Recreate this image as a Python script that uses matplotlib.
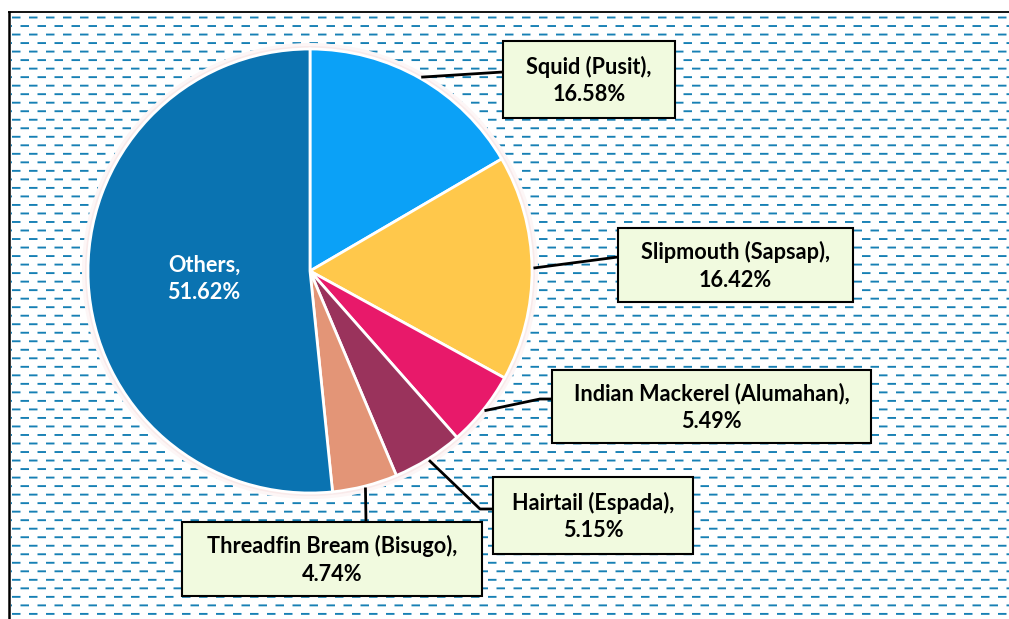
import numpy as np
import matplotlib
matplotlib.use("Agg")
import matplotlib.pyplot as plt
from matplotlib.patches import Rectangle, Circle

# ---- data ----
labels = ["Squid (Pusit)", "Slipmouth (Sapsap)", "Indian Mackerel (Alumahan)",
          "Hairtail (Espada)", "Threadfin Bream (Bisugo)", "Others"]
shares = [16.58, 16.42, 5.49, 5.15, 4.74, 51.62]
colors = ["#0BA1F7", "#FFC84B", "#E8196A", "#9A335C", "#E39577", "#0A73B1"]

W, H = 1009, 619
fig = plt.figure(figsize=(W / 100, H / 100), dpi=100)
ax = fig.add_axes([0, 0, 1, 1])

# ---- dashed background pattern (pixel image) ----
img = np.ones((H, W, 3))
dash_rgb = np.array([23, 128, 180]) / 255.0
cov = np.zeros((H, W))
pitch_y, pitch_x, dash_len, half_th = 8.52, 17.0, 8.5, 0.95
k = 0
while True:
    yc = 17.5 + k * pitch_y
    if yc > H + 2:
        break
    x0 = 12.0 if k % 2 == 0 else 3.5
    ycov = np.clip(np.minimum(np.arange(H) + 1, yc + half_th) - np.maximum(np.arange(H), yc - half_th), 0, 1)
    xcov = np.zeros(W)
    s = x0
    while s < W:
        xcov += np.clip(np.minimum(np.arange(W) + 1, s + dash_len) - np.maximum(np.arange(W), s), 0, 1)
        s += pitch_x
    xcov[:11] = 0
    cov = np.maximum(cov, np.outer(ycov, xcov))
    k += 1
img = img * (1 - cov[..., None]) + dash_rgb[None, None, :] * cov[..., None]
ax.imshow(img, extent=[0, W, 0, H], origin="upper", interpolation="nearest", zorder=0)

# ---- border ----
ax.plot([8, W], [H - 11.8, H - 11.8], color="black", lw=1.3, solid_capstyle="butt", zorder=1)
ax.plot([8.7, 8.7], [0, H - 11], color="black", lw=1.8, solid_capstyle="butt", zorder=1)

# ---- pie ----
cx, cy, R = 310, H - 271, 222
ax.add_patch(Circle((cx, cy), R + 6, color="#fdf6f6", zorder=2, lw=0))
ax.add_patch(Circle((cx, cy), R + 3, color="#f9eaea", zorder=2, lw=0))
wedges, _ = ax.pie(shares, colors=colors, startangle=90, counterclock=False,
                   center=(cx, cy), radius=R, frame=True,
                   wedgeprops=dict(edgecolor="white", linewidth=2.0, zorder=3))
for w in wedges:
    w.set_zorder(3)

# ---- labels ----
font = dict(family=["Lato", "DejaVu Sans"], fontweight="bold", fontsize=15.6)
box_fc = "#F1FADF"
boxes = {  # left, top, right, bottom (pixels)
    0: (503, 41, 675, 118),
    1: (618, 228, 853, 302),
    2: (552, 370, 871, 443),
    3: (493, 477, 693, 554),
    4: (182, 522, 482, 596),
}
elbows = {
    0: [(503, 72)],
    1: [(618, 257)],
    2: [(540, 399), (552, 399)],
    3: [(480, 509), (493, 509)],
    4: [(366, 522)],
}
cum = np.cumsum([0] + shares)
for i in range(5):
    mid = np.deg2rad(90 - (cum[i] + shares[i] / 2) * 3.6)
    sx, sy = cx + (R + 1.5) * np.cos(mid), cy + (R + 1.5) * np.sin(mid)
    px = [sx] + [p[0] for p in elbows[i]]
    py = [sy] + [H - p[1] for p in elbows[i]]
    ax.plot(px, py, color="black", lw=2.0, zorder=4, solid_capstyle="butt")
    l, t, r, b = boxes[i]
    ax.add_patch(Rectangle((l, H - b), r - l, b - t, facecolor=box_fc,
                           edgecolor="black", lw=1.5, zorder=5))
    ax.text((l + r) / 2, H - (t + b) / 2 - 1, f"{labels[i]},\n{shares[i]:.2f}%",
            ha="center", va="center", linespacing=1.38, zorder=6, color="black", **font)

ax.text(204, H - 279, f"{labels[5]},\n{shares[5]:.2f}%", ha="center", va="center",
        linespacing=1.38, zorder=6, color="white", **font)

ax.set_xlim(0, W)
ax.set_ylim(0, H)
ax.set_aspect("auto")
ax.axis("off")
fig.savefig("out.png", dpi=100, facecolor="white")
